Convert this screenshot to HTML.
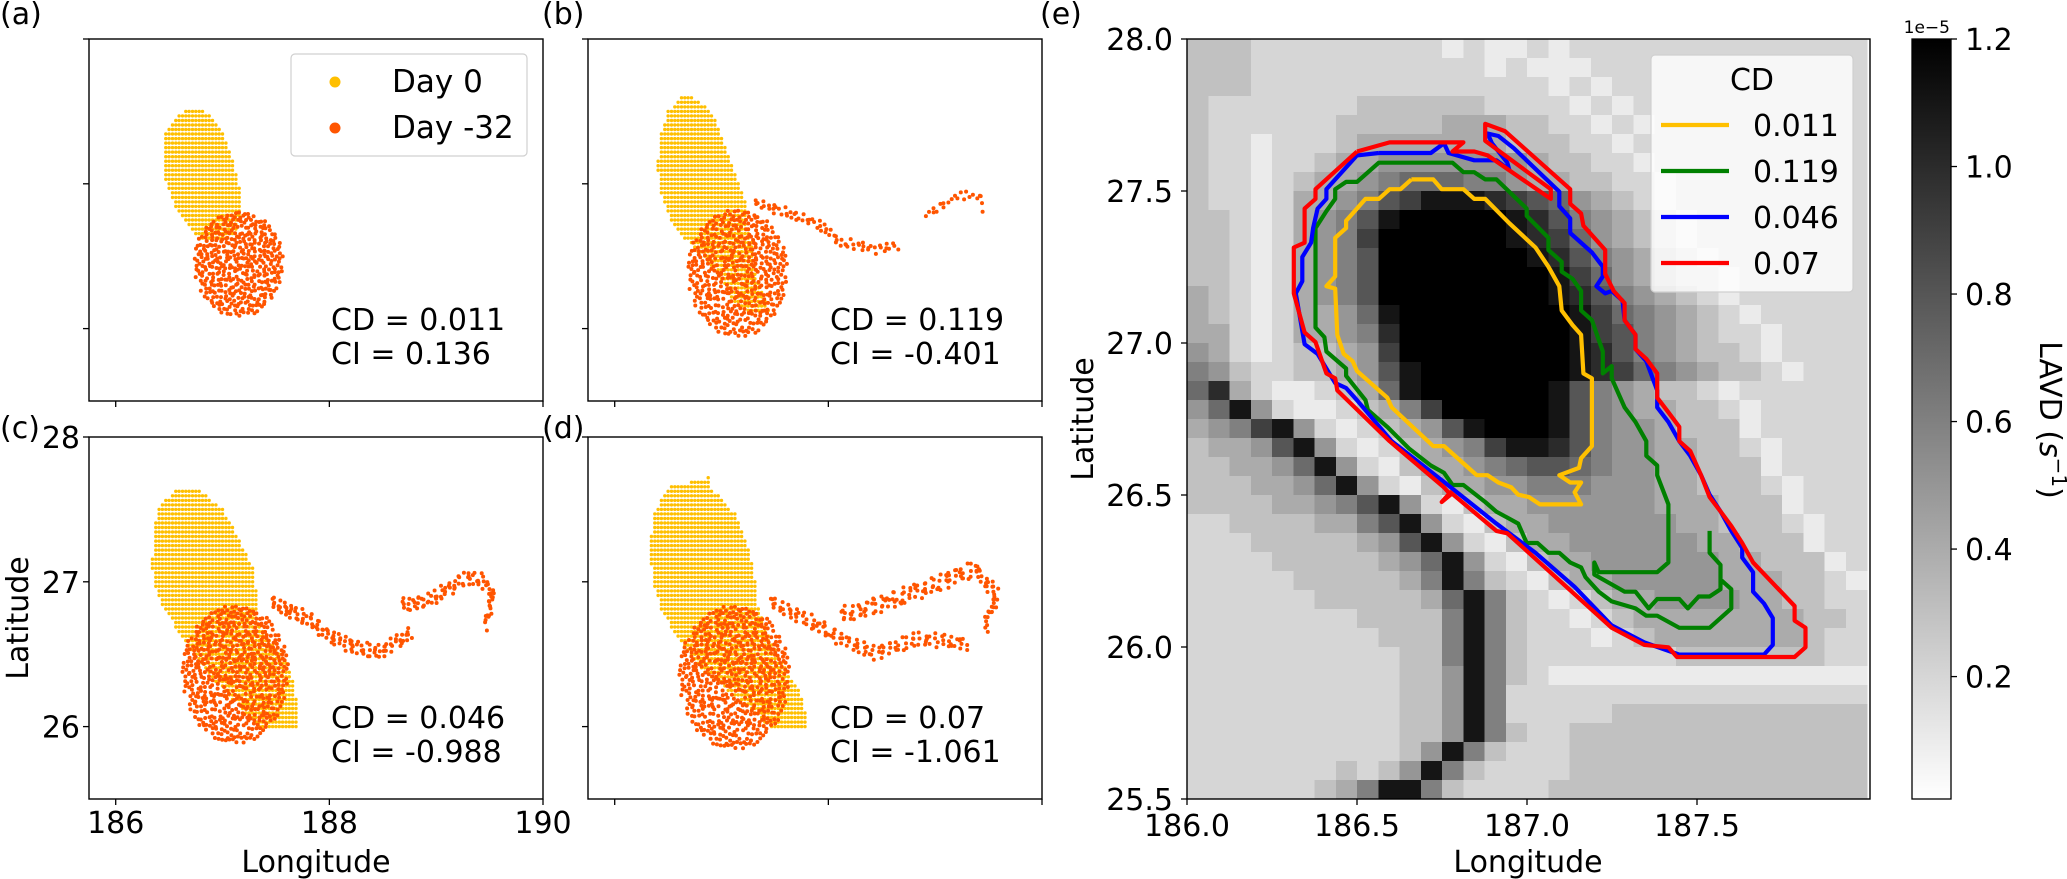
<!DOCTYPE html>
<html><head><meta charset="utf-8">
<style>
html,body{margin:0;padding:0;background:#fff;}
svg{display:block;font-family:"DejaVu Sans","Liberation Sans",sans-serif;}
</style></head>
<body>
<svg id="fig" width="2067" height="879" viewBox="0 0 2067 879" xmlns="http://www.w3.org/2000/svg"></svg>
<script>
// ---------- DATA ----------
const xTicksScatter = [186, 188, 190];
const yTicksScatter = [26, 27, 28];
const xTicksE = [186.0, 186.5, 187.0, 187.5];
const yTicksE = [25.5, 26.0, 26.5, 27.0, 27.5, 28.0];
const cbTicks = [0.2, 0.4, 0.6, 0.8, 1.0, 1.2];
const cdValues = ["0.011", "0.119", "0.046", "0.07"];
const ciValues = ["0.136", "-0.401", "-0.988", "-1.061"];
const cdLegendLabels = ["0.011", "0.119", "0.046", "0.07"];

// Day 0 yellow region rows: [lat, lonMin, lonMax]
const yellowA = [[27.53,186.68,186.75],[27.45,186.55,186.92],[27.35,186.47,187.00],[27.2,186.44,187.08],[27.0,186.47,187.15],[26.85,186.55,187.18],[26.7,186.68,187.15],[26.62,186.80,187.05]];
const yellowB = [[27.6,186.62,186.72],[27.5,186.50,186.90],[27.3,186.42,187.02],[27.1,186.40,187.12],[26.9,186.44,187.22],[26.7,186.55,187.25],[26.55,186.75,187.3],[26.4,186.95,187.32],[26.2,187.1,187.4],[26.12,187.25,187.45]];
const yellowC = [[27.63,186.55,186.80],[27.5,186.39,187.0],[27.3,186.35,187.15],[27.1,186.34,187.28],[26.9,186.39,187.32],[26.7,186.55,187.33],[26.5,186.74,187.56],[26.3,186.95,187.68],[26.0,187.32,187.70]];
const yellowD = [[27.72,186.86,186.88],[27.65,186.49,186.90],[27.45,186.36,187.15],[27.2,186.33,187.27],[27.0,186.36,187.32],[26.8,186.44,187.35],[26.6,186.59,187.45],[26.4,186.79,187.60],[26.2,187.15,187.76],[26.0,187.45,187.81]];

// Day -32 red clouds: [lonCenter, latCenter, lonRadius, latRadius, count]
const redBlobA = [187.15, 26.46, 0.42, 0.38, 430];
const redBlobB = [187.15, 26.40, 0.47, 0.46, 500];
const redBlobC = [187.12, 26.38, 0.50, 0.50, 620];
const redBlobD = [187.12, 26.36, 0.52, 0.52, 620];
// filament tails: polylines of [lon, lat]
const tailB1 = [[187.3,26.87],[187.62,26.80],[187.92,26.72],[188.1,26.6],[188.45,26.55],[188.67,26.58]];
const tailB2 = [[188.9,26.76],[189.1,26.88],[189.3,26.93],[189.42,26.92],[189.47,26.78]];
const tailC1 = [[187.45,26.86],[187.81,26.74],[188.02,26.62],[188.27,26.54],[188.47,26.52],[188.72,26.62],[188.78,26.67]];
const tailC2 = [[188.67,26.83],[188.98,26.89],[189.28,27.03],[189.43,27.01],[189.53,26.92],[189.46,26.69]];
const tailD1 = [[187.45,26.86],[187.8,26.74],[188.11,26.61],[188.44,26.51],[188.86,26.61],[189.32,26.57]];
const tailD2 = [[188.11,26.76],[188.7,26.9],[189.37,27.09],[189.57,26.92],[189.47,26.68]];

// LAVD field (hex digit = value*10, units 1e-5 s^-1), 32 cols x 40 rows, north to south
const lavdRows = [
"33322222 22221211 21222222 22222222",
"33322222 22222212 11122222 22222222",
"33322222 22222222 21212222 22222222",
"32222222 33333322 22121222 22222222",
"32222223 33334443 32212122 22222222",
"32212223 44444443 33221222 22222222",
"32212234 45555555 43322122 22222222",
"32212344 56777665 44332212 22222222",
"32212445 689bbba9 87543212 22222222",
"33212456 8bcccccb a8654321 22222222",
"33212456 9ccccccb a9754321 22222222",
"33212456 8ccccccc ba865432 12222222",
"33212456 8ccccccc cb975432 21222222",
"43212456 8ccccccc cba86543 21222222",
"43212445 7bcccccc ccb97654 32122222",
"44212445 6acccccc ccb98654 32212222",
"54212334 59cccccc ccba8654 33212222",
"65322334 58bccccc ccba9765 43321222",
"7a421123 47bccccc cb865433 21222222",
"57b52112 3469cccc cb865443 32122222",
"4569b521 23458bcc cb865543 33122222",
"34458b52 1234569b ba865544 33212222",
"334457b5 21344567 88765544 33312222",
"3334457b 52134455 66655544 33321222",
"33334456 8b521344 55555544 43331222",
"22333344 68b52134 45555554 43332122",
"22233333 458b5213 44555555 44333122",
"22223333 3457b521 34455555 54433312",
"22222333 3346b632 13445555 54443321",
"22222233 33347b63 21234455 55443322",
"22222222 33336b63 22123444 44444332",
"22222222 23336b63 22212344 44444322",
"22222222 22336b63 22222223 33333322",
"22222222 22335b63 21111111 11111111",
"22222222 22335b62 22222222 22222222",
"22222222 22335b62 22223333 33333333",
"22222222 22335b63 22333333 33333333",
"22222222 2235b632 22333333 33333333",
"22222223 235b6322 22333333 33333333",
"22222234 6bb63222 23333333 33333333"
];

// CD contours (lon, lat)
const contourYellow = [[186.660,27.538],[186.724,27.538],[186.749,27.506],[186.813,27.506],[186.845,27.474],[186.877,27.474],[186.948,27.394],[187.025,27.314],[187.063,27.251],[187.095,27.187],[187.102,27.107],[187.134,27.059],[187.159,27.027],[187.166,26.900],[187.191,26.884],[187.191,26.661],[187.159,26.621],[187.153,26.589],[187.095,26.565],[187.127,26.541],[187.159,26.541],[187.140,26.509],[187.159,26.469],[187.038,26.469],[187.006,26.493],[186.974,26.501],[186.954,26.525],[186.916,26.541],[186.884,26.565],[186.852,26.565],[186.820,26.597],[186.756,26.661],[186.724,26.661],[186.602,26.788],[186.589,26.820],[186.500,26.908],[186.487,26.940],[186.461,26.964],[186.442,27.027],[186.436,27.179],[186.410,27.187],[186.436,27.219],[186.436,27.346],[186.468,27.378],[186.468,27.402],[186.525,27.474],[186.564,27.474],[186.596,27.506],[186.628,27.506],[186.660,27.538]];
const contourGreen = [[187.569,26.222],[187.601,26.190],[187.601,26.127],[187.537,26.063],[187.448,26.063],[187.383,26.103],[187.351,26.103],[187.319,26.127],[187.249,26.150],[187.211,26.182],[187.172,26.230],[187.159,26.262],[187.127,26.278],[187.095,26.310],[187.063,26.310],[187.031,26.342],[186.999,26.342],[186.974,26.406],[186.948,26.422],[186.910,26.445],[186.877,26.477],[186.813,26.533],[186.781,26.533],[186.756,26.573],[186.717,26.597],[186.653,26.653],[186.589,26.724],[186.532,26.780],[186.525,26.812],[186.468,26.892],[186.468,26.916],[186.410,26.972],[186.404,27.019],[186.378,27.051],[186.378,27.378],[186.410,27.434],[186.436,27.474],[186.436,27.506],[186.468,27.530],[186.500,27.530],[186.564,27.593],[186.781,27.593],[186.813,27.562],[186.845,27.562],[186.877,27.538],[186.910,27.538],[186.999,27.442],[186.999,27.418],[187.063,27.346],[187.063,27.306],[187.102,27.267],[187.102,27.235],[187.134,27.211],[187.159,27.171],[187.159,27.107],[187.191,27.075],[187.223,26.972],[187.223,26.900],[187.249,26.924],[187.249,26.884],[187.287,26.788],[187.319,26.740],[187.351,26.677],[187.351,26.629],[187.383,26.597],[187.383,26.565],[187.416,26.469],[187.416,26.278],[187.383,26.246],[187.211,26.246],[187.198,26.278],[187.198,26.238],[187.287,26.182],[187.319,26.182],[187.358,26.127],[187.383,26.158],[187.448,26.158],[187.473,26.127],[187.505,26.166],[187.537,26.166],[187.569,26.190],[187.569,26.270],[187.537,26.310],[187.537,26.382]];
const contourBlue = [[186.564,27.625],[186.717,27.625],[186.756,27.657],[186.769,27.625],[186.845,27.601],[186.910,27.601],[186.948,27.570],[186.942,27.593],[186.897,27.657],[186.884,27.689],[186.916,27.681],[186.961,27.641],[187.095,27.498],[187.095,27.450],[187.127,27.410],[187.127,27.362],[187.191,27.298],[187.223,27.251],[187.223,27.219],[187.204,27.187],[187.230,27.163],[187.249,27.171],[187.281,27.139],[187.287,27.075],[187.319,27.027],[187.319,26.980],[187.351,26.940],[187.383,26.844],[187.383,26.788],[187.416,26.740],[187.448,26.677],[187.480,26.629],[187.512,26.565],[187.537,26.501],[187.569,26.446],[187.601,26.382],[187.633,26.326],[187.633,26.294],[187.665,26.246],[187.665,26.182],[187.697,26.143],[187.723,26.095],[187.723,26.007],[187.697,25.975],[187.448,25.975],[187.345,26.015],[187.249,26.071],[187.140,26.198],[187.025,26.310],[186.910,26.406],[186.749,26.549],[186.602,26.677],[186.500,26.812],[186.468,26.852],[186.436,26.868],[186.384,26.964],[186.346,26.996],[186.320,27.163],[186.339,27.203],[186.339,27.283],[186.365,27.330],[186.371,27.378],[186.384,27.442],[186.410,27.474],[186.410,27.506],[186.500,27.617],[186.564,27.625]];
const contourRed = [[186.500,27.630],[186.596,27.660],[186.813,27.660],[186.781,27.630],[186.845,27.630],[186.884,27.617],[187.070,27.474],[187.070,27.506],[186.877,27.665],[186.877,27.721],[186.935,27.697],[187.127,27.506],[187.127,27.458],[187.159,27.426],[187.166,27.386],[187.198,27.346],[187.230,27.306],[187.230,27.227],[187.255,27.171],[187.287,27.131],[187.287,27.075],[187.319,27.027],[187.319,26.980],[187.351,26.948],[187.383,26.900],[187.383,26.820],[187.416,26.772],[187.448,26.724],[187.448,26.677],[187.480,26.645],[187.512,26.565],[187.537,26.493],[187.569,26.446],[187.601,26.398],[187.633,26.342],[187.665,26.278],[187.787,26.135],[187.787,26.087],[187.819,26.063],[187.819,25.999],[187.787,25.967],[187.441,25.967],[187.416,25.999],[187.345,26.007],[187.249,26.063],[186.942,26.374],[186.910,26.382],[186.775,26.509],[186.749,26.477],[186.775,26.501],[186.756,26.525],[186.596,26.677],[186.442,26.844],[186.436,26.884],[186.410,26.900],[186.378,27.003],[186.346,27.035],[186.314,27.163],[186.314,27.314],[186.346,27.330],[186.346,27.442],[186.378,27.474],[186.378,27.506],[186.500,27.630]];

// ---------- RENDER ----------
const NS = "http://www.w3.org/2000/svg";
const svg = document.getElementById('fig');
function el(tag, attrs, parent){ const e=document.createElementNS(NS,tag); for(const k in attrs) e.setAttribute(k, attrs[k]); (parent||svg).appendChild(e); return e; }
function txt(str, attrs, parent){ const t=el('text', attrs, parent); t.textContent=str; return t; }
function halton(i,b){ let f=1,r=0; while(i>0){ f/=b; r+=f*(i%b); i=Math.floor(i/b);} return r; }

const YEL="#ffbf00", RED="#ff5500";
const FS=30;

const panels=[
 {key:'a', left:89, top:39, yellow:yellowA, blob:redBlobA, tails:[], labelX:0, labelY:24, xl:false, yl:false},
 {key:'b', left:588, top:39, yellow:yellowB, blob:redBlobB, tails:[[tailB1,70,0.035],[tailB2,22,0.03]], labelX:542, labelY:24, xl:false, yl:false},
 {key:'c', left:89, top:437, yellow:yellowC, blob:redBlobC, tails:[[tailC1,120,0.05],[tailC2,90,0.05]], labelX:0, labelY:438, xl:true, yl:true},
 {key:'d', left:588, top:437, yellow:yellowD, blob:redBlobD, tails:[[tailD1,130,0.05],[tailD2,140,0.06]], labelX:542, labelY:438, xl:false, yl:false}
];
const PW=454, PH=362, LON0=185.75, LON1=190, LAT0=25.5, LAT1=28;

panels.forEach((p,pi)=>{
  const g=el('g',{});
  
  
  const X=lon=>p.left+(lon-LON0)/(LON1-LON0)*PW;
  const Y=lat=>p.top+(LAT1-lat)/(LAT1-LAT0)*PH;
  const clipId='clip'+p.key;
  const cp=el('clipPath',{id:clipId},g); el('rect',{x:p.left,y:p.top,width:PW,height:PH},cp);
  const pts=el('g',{'clip-path':'url(#'+clipId+')'},g);
  const rows=p.yellow;
  const yg=el('g',{fill:YEL},pts);
  
  
  const latTop=rows[0][0], latBot=rows[rows.length-1][0];
  for(let k=Math.ceil(latBot*32);k<=Math.floor(latTop*32);k++){
    const lat=k/32;
    let j=0; while(j<rows.length-2 && rows[j+1][0]>lat) j++;
    const r0=rows[j], r1=rows[j+1];
    const t=(r0[0]-lat)/(r0[0]-r1[0]);
    const lo=r0[1]+(r1[1]-r0[1])*t, hi=r0[2]+(r1[2]-r0[2])*t;
    for(let m=Math.ceil(lo*32);m<=Math.floor(hi*32);m++){
      el('circle',{cx:X(m/32).toFixed(1),cy:Y(lat).toFixed(1),r:1.7},yg);
    }
  }
  const rg=el('g',{fill:RED},pts);
  
  
  const b=p.blob;
  for(let i=1;i<=b[4];i++){
    const u=Math.sqrt(halton(i+7,2)), th=2*Math.PI*halton(i+7,3);
    const lon=b[0]+b[2]*u*Math.cos(th), lat=b[1]+b[3]*u*Math.sin(th)*(Math.sin(th)>0?0.92:1);
    el('circle',{cx:X(lon).toFixed(1),cy:Y(lat).toFixed(1),r:2.0},rg);
  }
  p.tails.forEach(([line,n,sp])=>{
    const segL=[]; let tot=0;
    for(let i=1;i<line.length;i++){ const d=Math.hypot(line[i][0]-line[i-1][0],line[i][1]-line[i-1][1]); segL.push(d); tot+=d; }
    for(let i=1;i<=n;i++){
      let s=halton(i,2)*tot, k=0; while(k<segL.length-1 && s>segL[k]){ s-=segL[k]; k++; }
      const f=Math.min(1,s/segL[k]);
      const lon=line[k][0]+(line[k+1][0]-line[k][0])*f+(halton(i,5)-0.5)*sp;
      const lat=line[k][1]+(line[k+1][1]-line[k][1])*f+(halton(i,3)-0.5)*2*sp;
      el('circle',{cx:X(lon).toFixed(1),cy:Y(lat).toFixed(1),r:2.0},rg);
    }
  });
  const fr=el('rect',{x:p.left,y:p.top,width:PW,height:PH,fill:'none',stroke:'#000','stroke-width':1.4},g);
  
  
  xTicksScatter.forEach(v=>{
    el('line',{x1:X(v),x2:X(v),y1:p.top+PH,y2:p.top+PH+6,stroke:'#000','stroke-width':1.3},g);
    if(p.xl){ const t=txt(String(v),{x:X(v),y:p.top+PH+34,'font-size':FS,'text-anchor':'middle'},g);
      
       }
  });
  yTicksScatter.forEach(v=>{
    el('line',{x1:p.left-6,x2:p.left,y1:Y(v),y2:Y(v),stroke:'#000','stroke-width':1.3},g);
    if(p.yl){ const t=txt(String(v),{x:p.left-9,y:Y(v)+11,'font-size':FS,'text-anchor':'end'},g);
      
       }
  });
  const a1=txt('CD = '+cdValues[pi],{x:p.left+242,y:p.top+291,'font-size':FS},g);
  
  
  const a2=txt('CI = '+ciValues[pi],{x:p.left+242,y:p.top+325,'font-size':FS},g);
  
  
  const pl=txt('('+p.key+')',{x:p.labelX,y:p.labelY,'font-size':FS},g);
  
  
});

{
  const lg=el('g',{});
  
  
  el('rect',{x:291,y:54,width:236,height:102,rx:4,fill:'#fff','fill-opacity':0.8,stroke:'#d0d0d0','stroke-width':1.2},lg);
  el('circle',{cx:335,cy:82,r:5.5,fill:YEL},lg);
  el('circle',{cx:335,cy:128,r:5.5,fill:RED},lg);
  txt('Day 0',{x:392,y:92,'font-size':31},lg);
  txt('Day -32',{x:392,y:138,'font-size':31},lg);
}
{
  const t1=txt('Longitude',{x:316,y:872,'font-size':FS,'text-anchor':'middle'});
  
  
  const t2=txt('Latitude',{x:0,y:0,'font-size':FS,'text-anchor':'middle',transform:'translate(28,618) rotate(-90)'});
  
  
}

// ---------- panel (e) ----------
const EL=1187, ET=39, EW=683, EH=760;
const XE=lon=>EL+(lon-186)*340;
const YE=lat=>ET+(28-lat)*304;
const VMIN=0.008, VMAX=1.2;
function grayOf(v){ let g=Math.round(255*(1-(v-VMIN)/(VMAX-VMIN))); g=Math.max(0,Math.min(255,g)); return 'rgb('+g+','+g+','+g+')'; }
{
  const ge=el('g',{});
  
  
  const cp=el('clipPath',{id:'clipE'},ge); el('rect',{x:EL,y:ET,width:EW,height:EH},cp);
  const hm=el('g',{'clip-path':'url(#clipE)','shape-rendering':'crispEdges'},ge);
  
  
  const nR=lavdRows.length, d=2.5/nR, dl=2/32;
  lavdRows.forEach((row,r)=>{
    let s=row.replace(/ /g,''); while(s.length<32) s+=s[s.length-1];
    for(let c=0;c<32;c++){
      const v=parseInt(s[c],16)/10;
      const lon=186+c*dl, lat=28-r*d;
      const x0=XE(lon), x1=XE(lon+dl), y0=YE(lat), y1=YE(lat-d);
      const cell=el('rect',{x:x0.toFixed(2),y:y0.toFixed(2),width:(x1-x0+0.6).toFixed(2),height:(y1-y0+0.6).toFixed(2),fill:grayOf(v)},hm);
      
      
    }
  });
  const cg=el('g',{'clip-path':'url(#clipE)',fill:'none','stroke-width':4.2,'stroke-linejoin':'round'},ge);
  [[contourYellow,'#ffc000','contour-0.011'],[contourGreen,'#008000','contour-0.119'],[contourBlue,'#0000ff','contour-0.046'],[contourRed,'#ff0000','contour-0.07']].forEach(([pts,col,nm])=>{
    const pl=el('polyline',{points:pts.map(q=>XE(q[0]).toFixed(1)+','+YE(q[1]).toFixed(1)).join(' '),stroke:col},cg);
    
    
  });
  el('rect',{x:EL,y:ET,width:EW,height:EH,fill:'none',stroke:'#000','stroke-width':1.4},ge);
  xTicksE.forEach(v=>{
    el('line',{x1:XE(v),x2:XE(v),y1:ET+EH,y2:ET+EH+6,stroke:'#000','stroke-width':1.3},ge);
    const t=txt(v.toFixed(1),{x:XE(v),y:836,'font-size':FS,'text-anchor':'middle'},ge);
    
    
  });
  yTicksE.forEach(v=>{
    el('line',{x1:EL-6,x2:EL,y1:YE(v),y2:YE(v),stroke:'#000','stroke-width':1.3},ge);
    const t=txt(v.toFixed(1),{x:EL-14,y:YE(v)+11,'font-size':FS,'text-anchor':'end'},ge);
    
    
  });
  const xt=txt('Longitude',{x:1528,y:872,'font-size':FS,'text-anchor':'middle'},ge);
  
  
  const yt=txt('Latitude',{x:0,y:0,'font-size':FS,'text-anchor':'middle',transform:'translate(1093,419) rotate(-90)'},ge);
  
  
  const pl=txt('(e)',{x:1040,y:24,'font-size':FS},ge);
  
  
  const lg=el('g',{},ge);
  
  
  el('rect',{x:1651,y:55,width:202,height:237,rx:4,fill:'#fff','fill-opacity':0.8,stroke:'#d0d0d0','stroke-width':1.2},lg);
  txt('CD',{x:1752,y:90,'font-size':FS,'text-anchor':'middle'},lg);
  const lcols=['#ffc000','#008000','#0000ff','#ff0000'];
  cdLegendLabels.forEach((s,i)=>{
    const y=125+i*46;
    el('line',{x1:1661,x2:1729,y1:y,y2:y,stroke:lcols[i],'stroke-width':4.2},lg);
    txt(s,{x:1753,y:y+11,'font-size':FS},lg);
  });
}
{
  const cb=el('g',{});
  
  
  const defs=el('defs',{},cb);
  const lg=el('linearGradient',{id:'cbg',x1:0,y1:1,x2:0,y2:0},defs);
  el('stop',{offset:0,'stop-color':'#ffffff'},lg);
  el('stop',{offset:1,'stop-color':'#000000'},lg);
  const CX=1912, CY=39, CW=39, CH=760;
  el('rect',{x:CX,y:CY,width:CW,height:CH,fill:'url(#cbg)',stroke:'#000','stroke-width':1.3},cb);
  const yC=v=>CY+CH-(v-VMIN)/(VMAX-VMIN)*CH;
  cbTicks.forEach(v=>{
    el('line',{x1:CX+CW,x2:CX+CW+6,y1:yC(v),y2:yC(v),stroke:'#000','stroke-width':1.3},cb);
    const t=txt(v.toFixed(1),{x:CX+CW+14,y:yC(v)+11,'font-size':FS},cb);
    
    
  });
  txt('1e\u22125',{x:1950,y:33,'font-size':17,'text-anchor':'end'},cb);
  const lt=el('text',{x:0,y:0,'font-size':FS,'text-anchor':'middle',transform:'translate(2040,420) rotate(90)'},cb);
  
  
  lt.textContent='LAVD (';
  const ts=el('tspan',{'font-style':'italic'},lt); ts.textContent='s';
  const sup=el('tspan',{'baseline-shift':'super','font-size':20},lt); sup.textContent='\u22121';
  const cl=el('tspan',{},lt); cl.textContent=')';
}
</script>
</body></html>
